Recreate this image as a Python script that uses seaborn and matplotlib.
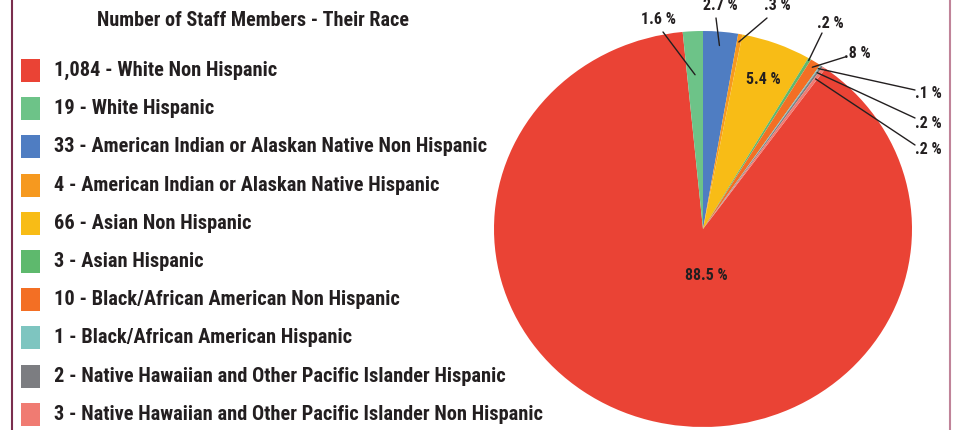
import matplotlib
matplotlib.use("Agg")
import matplotlib.pyplot as plt
import seaborn as sns
from matplotlib import font_manager
from matplotlib.patches import Rectangle
from matplotlib.lines import Line2D
import math

# ---------------- data ----------------
categories = [
    "White Non Hispanic",
    "White Hispanic",
    "American Indian or Alaskan Native Non Hispanic",
    "American Indian or Alaskan Native Hispanic",
    "Asian Non Hispanic",
    "Asian Hispanic",
    "Black/African American Non Hispanic",
    "Black/African American Hispanic",
    "Native Hawaiian and Other Pacific Islander Hispanic",
    "Native Hawaiian and Other Pacific Islander Non Hispanic",
]
counts = [1084, 19, 33, 4, 66, 3, 10, 1, 2, 3]
colors = ["#EA4335", "#6DC388", "#4F7DC2", "#F6991F", "#F8BC16",
          "#5EB96D", "#F36F24", "#7EC5C0", "#7C7D81", "#F07B72"]
title = "Number of Staff Members - Their Race"

# ---------------- style ----------------
sns.set_theme(style="white")
avail = {f.name for f in font_manager.fontManager.ttflist}
fams = [f for f in ["Liberation Sans Narrow", "Roboto Condensed", "Open Sans Condensed", "Roboto", "DejaVu Sans"] if f in avail]
plt.rcParams["font.family"] = fams
TXT = "#231F20"

W, H = 959, 430
fig = plt.figure(figsize=(W / 100, H / 100), dpi=100)
fig.patch.set_facecolor("white")

# pie geometry (pixels)
cx, cy, rx, ry = 703, 229, 209, 198
ax = fig.add_axes([(cx - rx) / W, (H - cy - ry) / H, 2 * rx / W, 2 * ry / H])

total = sum(counts)
# order clockwise so that the last wedge ends at 12 o'clock
start = 90 + 360 * (counts[0] + counts[1]) / total
wedges, _ = ax.pie(counts, colors=colors, startangle=start, counterclock=False,
                   wedgeprops=dict(linewidth=0))
ax.set_aspect("auto")
ax.set_xlim(-1, 1)
ax.set_ylim(-1, 1)
ax.axis("off")


def pct_label(v):
    p = 100 * v / total
    s = f"{p:.1f}"
    if s.startswith("0"):
        s = s[1:]
    return s + " %"


def to_data(px, py):
    return (px - cx) / rx, (cy - py) / ry


# label layout: (text pixel pos, anchor radius or None for inside)
layout = {
    0: ((706, 276), None),
    1: ((658, 19), 0.78),
    2: ((720, 6), 0.93),
    3: ((777, 6), 0.96),
    4: ((763, 79), None),
    5: ((830, 24), 0.99),
    6: ((857, 53), 0.97),
    7: ((928, 93), 0.98),
    8: ((928, 123), 0.96),
    9: ((928, 150), 0.93),
}
# leader start offsets (pixel, relative to text center)
lead_from = {
    1: (5, 13), 2: (-4, 12), 3: (-10, 12), 5: (-8, 9), 6: (-12, 4),
    7: (-13, -3), 8: (-13, -5), 9: (-13, -5),
}

for i, w in enumerate(wedges):
    (tx, ty), r = layout[i]
    x, y = to_data(tx, ty)
    ax.text(x, y, pct_label(counts[i]), ha="center", va="center",
            fontsize=11.5, fontweight="bold", color=TXT, clip_on=False)
    if r is not None:
        mid = math.radians((w.theta1 + w.theta2) / 2)
        axp, ayp = r * math.cos(mid), r * math.sin(mid)
        dx, dy = lead_from[i]
        lx, ly = to_data(tx + dx, ty + dy)
        ax.add_line(Line2D([lx, axp], [ly, ayp], color=TXT, lw=1.0, clip_on=False))

# title
fig.text(253 / W, 1 - 20 / H, title, ha="center", va="center",
         fontsize=14.5, fontweight="bold", color=TXT)

# legend
y0, step = 70.5, 38.2
for i, (n, name) in enumerate(zip(counts, categories)):
    yc = y0 + i * step
    fig.patches.append(Rectangle((21 / W, 1 - (yc + 11.5) / H), 19 / W, 23 / H,
                                 transform=fig.transFigure, facecolor=colors[i],
                                 edgecolor="none"))
    fig.text(54 / W, 1 - yc / H, f"{n:,} - {name}", ha="left", va="center",
             fontsize=14.7, fontweight="bold", color=TXT)

# border lines
fig.add_artist(Line2D([11.5 / W, 11.5 / W], [0, 1], transform=fig.transFigure,
                      color="#7A2E4E", lw=1.5))
fig.add_artist(Line2D([949.5 / W, 949.5 / W], [0, 1], transform=fig.transFigure,
                      color="#C08399", lw=1.5))

fig.savefig("out.png", dpi=100)
